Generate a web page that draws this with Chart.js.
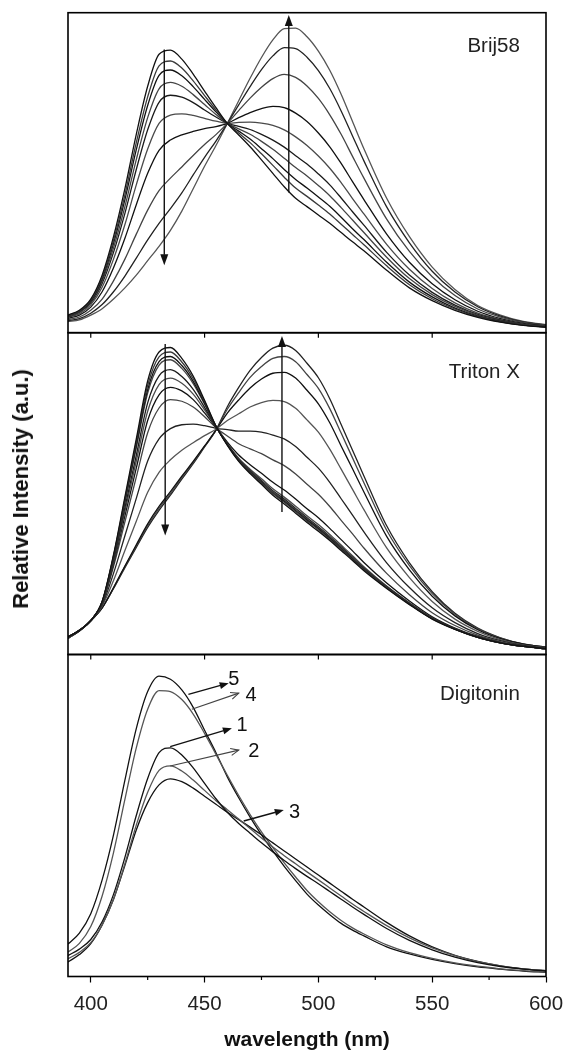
<!DOCTYPE html>
<html>
<head>
<meta charset="utf-8">
<script src="https://cdn.jsdelivr.net/npm/chart.js@4.4.1/dist/chart.umd.min.js"></script>
<style>
html,body{margin:0;padding:0;background:#fff;}
#wrap{position:relative;width:565px;height:1053px;overflow:hidden;background:#fff;}
canvas{position:absolute;left:0;top:0;}
#ytitle{position:absolute;left:21px;top:489px;transform:translate(-50%,-50%) rotate(-90deg);font:bold 22px "Liberation Sans", Arial, sans-serif;white-space:nowrap;color:#111;}
</style>
</head>
<body>
<div id="wrap">
<canvas id="c1" width="565" height="1053"></canvas>
<canvas id="c2" width="565" height="1053"></canvas>
<canvas id="c3" width="565" height="1053"></canvas>
<div id="ytitle">Relative Intensity (a.u.)</div>
</div>
<script>
// ---------------- DATA ----------------
const WAVELENGTHS = [390,395,400,405,410,415,420,425,430,435,440,445,450,455,460,465,470,475,480,485,490,495,500,505,510,515,520,530,540,550,560,570,580,590,600];
const TICK_VALUES = [400,450,500,550,600];
const MINOR_TICK_VALUES = [425,475,525,575];

// Brij58 panel (relative intensity, 0-100 of panel height)
const brij58_1  = [5.5,7,10.5,18,30,45,62,77,87,88.3,85.5,80.8,75.5,70.3,65.4,61.8,58.1,54,49.8,45.6,42,39.4,36.8,34.2,31.3,28.4,25.6,19.5,14,10,7,4.8,3.3,2.3,1.7];
const brij58_2  = [5.4,6.8,10.2,17.4,28.8,43.1,59.4,73.7,83.4,84.9,82.7,78.7,74.1,69.6,65.4,62.4,59.4,55.9,52.3,48.6,45.2,42.6,39.9,37.1,33.9,30.7,27.5,20.9,15.0,10.6,7.4,5.0,3.4,2.4,1.7];
const brij58_3  = [5.3,6.7,9.9,16.8,27.9,41.6,57.2,71.0,80.4,82.1,80.3,76.9,72.9,69.0,65.4,63.0,60.5,57.5,54.4,51.0,47.9,45.2,42.4,39.5,36.1,32.5,29.1,22.0,15.8,11.2,7.7,5.2,3.5,2.4,1.8];
const brij58_4  = [5.1,6.5,9.6,16.1,26.5,39.4,54.1,67.2,76.2,78.2,77.0,74.4,71.3,68.2,65.4,63.7,62.0,59.8,57.3,54.5,51.6,49.0,46.0,42.8,39.1,35.2,31.3,23.6,16.9,11.9,8.2,5.5,3.7,2.5,1.8];
const brij58_5  = [5.0,6.3,9.3,15.4,25.1,37.3,51.0,63.4,72.0,74.2,73.6,71.9,69.6,67.4,65.4,64.5,63.5,62.0,60.2,58.0,55.3,52.7,49.6,46.2,42.1,37.8,33.6,25.1,18.0,12.6,8.6,5.7,3.9,2.6,1.9];
const brij58_6  = [4.8,5.9,8.7,14.2,23.0,33.8,46.2,57.4,65.4,68.0,68.4,67.9,67.0,66.1,65.4,65.7,65.8,65.5,64.8,63.4,61.2,58.5,55.2,51.4,46.9,41.9,37.1,27.6,19.8,13.8,9.3,6.1,4.1,2.7,2.0];
const brij58_7  = [4.5,5.5,8.0,12.8,20.3,29.5,40.0,49.8,57.0,60.2,61.8,62.9,63.8,64.4,65.4,67.2,68.8,70.0,70.7,70.3,68.6,66.0,62.4,58.1,52.9,47.2,41.6,30.8,22.0,15.3,10.3,6.7,4.4,2.9,2.1];
const brij58_8  = [4.1,4.9,7.0,10.5,16.2,23.0,30.8,38.3,44.4,48.3,51.8,55.4,58.8,61.9,65.4,69.4,73.3,76.7,79.4,80.7,79.8,77.1,73.2,68.1,62.0,55.1,48.3,35.5,25.4,17.5,11.6,7.4,4.9,3.2,2.3];
const brij58_9  = [3.7,4.4,6.1,8.8,12.8,17.7,23.3,29.0,34.2,38.8,43.7,49.3,54.8,59.9,65.4,71.2,76.9,82.2,86.5,89.1,88.8,86.1,81.9,76.3,69.3,61.5,53.7,39.3,28.1,19.2,12.7,8.1,5.2,3.4,2.4];
const brij58_10 = [3.5,4,5.5,7.5,10.5,14,18,22.5,27,32,38,45,52,58.5,65.4,72.5,79.5,86,91.5,95,95.2,92.5,88,82,74.5,66,57.5,42,30,20.5,13.5,8.5,5.5,3.5,2.5];

// Triton X panel
const triton_1  = [5.5,7.5,10.5,16.5,31,49,67,85,94,95.4,92,86.5,79,71,65,60,56.2,52.9,49.5,46.8,43.9,41,38.3,35.4,32.3,29.2,26,20.5,15.5,11,7.8,5.3,3.6,2.5,1.8];
const triton_2  = [5.5,7.5,10.5,16.4,30.7,48.3,66.0,83.6,92.5,94.0,90.9,85.7,78.6,71.0,65.1,60.2,56.5,53.3,50.0,47.3,44.4,41.5,38.8,35.8,32.7,29.5,26.3,20.7,15.6,11.1,7.9,5.3,3.6,2.5,1.8];
const triton_3  = [5.5,7.5,10.5,16.4,30.4,47.7,65.0,82.3,91.0,92.6,89.8,84.9,78.1,70.9,65.2,60.4,56.7,53.5,50.2,47.6,44.7,41.8,39.1,36.1,32.9,29.7,26.5,20.8,15.7,11.1,7.9,5.3,3.6,2.5,1.8];
const triton_4  = [5.5,7.5,10.5,16.3,30.1,47.2,64.2,81.2,89.9,91.6,88.9,84.2,77.8,70.9,65.3,60.6,57.0,53.8,50.6,48.0,45.1,42.2,39.4,36.5,33.2,30.0,26.7,21.0,15.8,11.2,7.9,5.4,3.6,2.5,1.8];
const triton_5  = [5.4,7.5,10.5,16.2,29.4,45.7,61.9,78.2,86.6,88.5,86.4,82.4,76.8,70.8,65.4,60.7,57.2,54.1,50.9,48.3,45.4,42.5,39.7,36.7,33.5,30.2,26.9,21.1,15.9,11.3,8.0,5.4,3.6,2.5,1.8];
const triton_6  = [5.4,7.5,10.5,16.1,28.8,44.5,60.1,75.6,83.9,85.9,84.3,80.9,76.0,70.7,65.5,61.0,57.6,54.6,51.5,48.9,46.1,43.1,40.4,37.3,34.0,30.7,27.3,21.3,16.1,11.4,8.0,5.4,3.7,2.5,1.8];
const triton_7  = [5.4,7.4,10.5,16.0,28.2,43.1,57.9,72.7,80.7,83.0,81.9,79.2,75.1,70.6,66.0,62.0,59.0,56.3,53.5,51.1,48.3,45.3,42.5,39.2,35.7,32.2,28.6,22.2,16.6,11.7,8.2,5.6,3.7,2.6,1.8];
const triton_8  = [5.3,7.4,10.5,15.8,27.3,41.2,55.1,68.9,76.6,79.2,78.7,76.9,73.9,70.5,67.9,65.5,63.9,62.4,60.5,58.7,56.1,52.9,49.8,46.0,41.7,37.5,33.1,25.2,18.6,13.0,9.0,6.0,4.0,2.7,1.9];
const triton_9  = [5.2,7.4,10.5,15.4,25.2,36.9,48.5,60.1,67.0,70.2,71.4,71.6,71.1,70.3,69.9,69.4,69.4,69.1,68.2,67.0,64.6,61.3,57.9,53.5,48.4,43.3,38.1,28.5,20.8,14.5,9.9,6.5,4.3,2.8,2.0];
const triton_10 = [5.1,7.3,10.5,15.0,23.0,32.3,41.4,50.4,56.6,60.5,63.5,65.8,68.0,70.0,72.7,74.8,76.9,78.3,79.0,78.6,76.5,72.9,69.1,63.8,57.6,51.3,45.0,33.1,23.9,16.5,11.0,7.2,4.6,3.0,2.1];
const triton_11 = [5.0,7.3,10.5,14.5,20.8,27.5,34.1,40.6,46.0,50.6,55.4,60.0,64.8,69.7,75.0,79.1,82.8,85.6,87.4,87.7,85.9,82.1,77.9,72.0,64.8,57.7,50.5,36.7,26.3,18.1,12.0,7.7,4.9,3.2,2.2];
const triton_12 = [5.0,7.3,10.5,14.5,20.6,27.3,33.7,40.0,45.4,50.0,55.0,59.6,64.7,69.7,76.2,81.4,86.1,89.5,92.0,92.6,91.0,87.0,82.7,76.4,68.8,61.1,53.4,38.6,27.6,18.9,12.5,8.0,5.1,3.2,2.3];
const triton_13 = [5.0,7.5,10.5,14.5,20.5,27,33.3,39.5,44.8,49.5,54.5,59.3,64.5,69.7,77,83,88.3,92.3,95.2,96.1,94.5,90.5,86,79.5,71.5,63.5,55.5,40,28.5,19.5,12.8,8.2,5.2,3.3,2.3];

// Digitonin panel (curves 1..5)
const digitonin_1 = [6.5,8.5,11.5,17,25.5,37,50,61.5,69.5,71,68.8,64.8,60,55.2,51,47.5,44.5,41.5,38.7,36,33.5,31.1,28.8,26.4,24,21.6,19.3,14.9,11.2,8.3,6,4.3,3.1,2.3,1.7];
const digitonin_2 = [5.5,7.5,10.5,16,24,35,47,57.2,64,65.4,63.8,61,57.8,54.6,51.8,48.9,46,43,40.2,37.5,35,32.5,30,27.5,25,22.5,20.2,15.8,12,8.9,6.5,4.6,3.3,2.4,1.8];
const digitonin_3 = [4.5,6.8,10.2,16,24,34.5,45.5,54,59.5,61.4,60.5,58.5,56,53.5,51,48.7,46.4,44,41.5,39,36.5,34,31.5,29,26.5,24,21.6,16.8,12.6,9.2,6.6,4.7,3.3,2.4,1.8];
const digitonin_4 = [7.6,10.3,15.5,25,38.5,55,71,83,88.8,88.5,86,81.5,75.5,69,62.5,56.2,50.3,44.9,40,35.3,30.9,26.7,23.2,20.1,17.4,15.1,13.2,9.8,7.4,5.6,4.2,3.2,2.4,1.8,1.4];
const digitonin_5 = [10.1,13.5,19.5,30,44,61,77,88.5,93.3,92.3,89,83.6,76.5,69.5,62,55.5,49.5,44,39,34.2,29.8,25.6,22.2,19.2,16.5,14.4,12.6,9.2,7,5.3,4,3,2.3,1.7,1.3];

const PANEL_LABELS = ['Brij58', 'Triton X', 'Digitonin'];
const CURVE_NUMBERS = ['1', '2', '3', '4', '5'];
const X_TITLE = 'wavelength (nm)';

// ---------------- RENDERING ----------------
const FONT = '"Liberation Sans", Arial, Helvetica, sans-serif';
const DARK = ['#111','#3a3a3a','#111','#444','#1a1a1a','#4a4a4a','#111','#444','#222','#555','#111','#444','#222'];

function series(arr){ return WAVELENGTHS.map((w,i)=>({x:w, y:arr[i]})); }
function makeDatasets(list, colors){
  return list.map((arr,i)=>({
    data: series(arr), borderColor: colors[i % colors.length], borderWidth: 1.3,
    pointRadius: 0, fill: false, cubicInterpolationMode: 'monotone'
  }));
}

function drawArrow(ctx, x1, y1, x2, y2, filled, color, lw, L, W){
  const ang = Math.atan2(y2-y1, x2-x1);
  const bx = x2 - L*Math.cos(ang), by = y2 - L*Math.sin(ang);
  const lx = bx + W*Math.sin(ang), ly = by - W*Math.cos(ang);
  const rx = bx - W*Math.sin(ang), ry = by + W*Math.cos(ang);
  ctx.strokeStyle = color; ctx.fillStyle = color; ctx.lineWidth = lw;
  ctx.beginPath(); ctx.moveTo(x1,y1);
  if (filled) ctx.lineTo(bx + 0.5*Math.cos(ang), by + 0.5*Math.sin(ang)); else ctx.lineTo(x2,y2);
  ctx.stroke();
  if (filled){
    ctx.beginPath(); ctx.moveTo(x2,y2); ctx.lineTo(lx,ly); ctx.lineTo(rx,ry); ctx.closePath(); ctx.fill();
  } else {
    ctx.beginPath(); ctx.moveTo(lx,ly); ctx.lineTo(x2,y2); ctx.lineTo(rx,ry); ctx.stroke();
  }
}

const decoPlugin = {
  id: 'deco',
  afterDatasetsDraw(chart, args, o){
    const ctx = chart.ctx, a = chart.chartArea, xs = chart.scales.x, ys = chart.scales.y;
    ctx.save();
    ctx.strokeStyle = '#000'; ctx.lineWidth = 1.6;
    ctx.strokeRect(a.left, a.top, a.right - a.left, a.bottom - a.top);
    ctx.lineWidth = 1.2;
    if (o.topTicks){
      TICK_VALUES.forEach(v => { if (v < 600){ const p = xs.getPixelForValue(v); ctx.beginPath(); ctx.moveTo(p, a.top); ctx.lineTo(p, a.top + 5); ctx.stroke(); } });
    }
    if (o.minorBottom){
      MINOR_TICK_VALUES.forEach(v => { const p = xs.getPixelForValue(v); ctx.beginPath(); ctx.moveTo(p, a.bottom); ctx.lineTo(p, a.bottom + 3.5); ctx.stroke(); });
    }
    // panel label
    ctx.font = '20.5px ' + FONT; ctx.fillStyle = '#222'; ctx.textAlign = 'right'; ctx.textBaseline = 'middle';
    ctx.fillText(o.label, xs.getPixelForValue(o.labelAt[0]), ys.getPixelForValue(o.labelAt[1]));
    // arrows
    (o.arrows || []).forEach(ar => {
      drawArrow(ctx, xs.getPixelForValue(ar.from[0]), ys.getPixelForValue(ar.from[1]),
                xs.getPixelForValue(ar.to[0]), ys.getPixelForValue(ar.to[1]),
                ar.filled, ar.color || '#111', ar.lw || 1.4, ar.L || 11, ar.W || 4);
    });
    // curve numbers
    ctx.textAlign = 'center';
    ctx.font = '20px ' + FONT;
    (o.texts || []).forEach(t => {
      ctx.fillStyle = '#111';
      ctx.fillText(t.text, xs.getPixelForValue(t.at[0]), ys.getPixelForValue(t.at[1]));
    });
    ctx.restore();
  }
};

function baseOptions(padding, deco, showX){
  return {
    responsive: false, animation: false, events: [],
    layout: { padding },
    plugins: { legend: { display: false }, tooltip: { enabled: false }, deco },
    scales: {
      x: showX ? {
        type: 'linear', min: 390, max: 600,
        afterBuildTicks: s => { s.ticks = TICK_VALUES.map(v => ({ value: v })); },
        afterFit: s => { s.paddingLeft = 0; s.paddingRight = 0; s.height = 76.5; },
        ticks: { font: { family: FONT, size: 20.5 }, color: '#222', padding: 10, maxRotation: 0, autoSkip: false },
        grid: { display: true, drawOnChartArea: false, drawTicks: true, tickLength: 6, color: '#000', tickWidth: 1.2 },
        border: { display: false },
        title: { display: true, text: X_TITLE, color: '#111', font: { family: FONT, size: 21, weight: 'bold' }, padding: { top: 1, bottom: 0 } }
      } : { type: 'linear', min: 390, max: 600, display: false },
      y: { type: 'linear', min: 0, max: 100, display: false }
    }
  };
}

new Chart(document.getElementById('c1'), {
  type: 'line',
  data: { datasets: makeDatasets([brij58_1,brij58_2,brij58_3,brij58_4,brij58_5,brij58_6,brij58_7,brij58_8,brij58_9,brij58_10], DARK) },
  options: baseOptions({ left: 68, right: 19, top: 12.7, bottom: 720.3 }, {
    label: PANEL_LABELS[0], labelAt: [588.5, 89.6], topTicks: false,
    arrows: [
      { from: [432.3, 88.5], to: [432.3, 21.1], filled: true },
      { from: [487, 43.8], to: [487, 99.3], filled: true }
    ]
  }, false),
  plugins: [decoPlugin]
});

new Chart(document.getElementById('c2'), {
  type: 'line',
  data: { datasets: makeDatasets([triton_1,triton_2,triton_3,triton_4,triton_5,triton_6,triton_7,triton_8,triton_9,triton_10,triton_11,triton_12,triton_13], DARK) },
  options: baseOptions({ left: 68, right: 19, top: 332.7, bottom: 398.5 }, {
    label: PANEL_LABELS[1], labelAt: [588.5, 87.6], topTicks: true,
    arrows: [
      { from: [432.7, 96.5], to: [432.7, 37], filled: true },
      { from: [484, 44.3], to: [484, 99], filled: true }
    ]
  }, false),
  plugins: [decoPlugin]
});

new Chart(document.getElementById('c3'), {
  type: 'line',
  data: { datasets: makeDatasets([digitonin_1,digitonin_2,digitonin_3,digitonin_4,digitonin_5], ['#111','#555','#111','#555','#111']) },
  options: baseOptions({ left: 68, right: 19, top: 654.5, bottom: 0 }, {
    label: PANEL_LABELS[2], labelAt: [588.5, 87.7], topTicks: true, minorBottom: true,
    arrows: [
      { from: [442.9, 87.6], to: [460.6, 91.1], filled: true, L: 9, W: 3.5 },
      { from: [444.4, 83.0], to: [465.0, 88.0], filled: false, color: '#444', lw: 1.1, L: 8, W: 3.5 },
      { from: [434.9, 71.4], to: [462.0, 77.1], filled: true, L: 9, W: 3.5 },
      { from: [434.9, 65.4], to: [465.0, 70.3], filled: false, color: '#444', lw: 1.1, L: 8, W: 3.5 },
      { from: [467.2, 48.3], to: [484.8, 51.7], filled: true, L: 9, W: 3.5 }
    ],
    texts: [
      { text: CURVE_NUMBERS[4], at: [462.8, 92.3] },
      { text: CURVE_NUMBERS[3], at: [470.4, 87.4] },
      { text: CURVE_NUMBERS[0], at: [466.5, 77.8] },
      { text: CURVE_NUMBERS[1], at: [471.6, 69.8] },
      { text: CURVE_NUMBERS[2], at: [489.5, 50.9] }
    ]
  }, true),
  plugins: [decoPlugin]
});
</script>
</body>
</html>
